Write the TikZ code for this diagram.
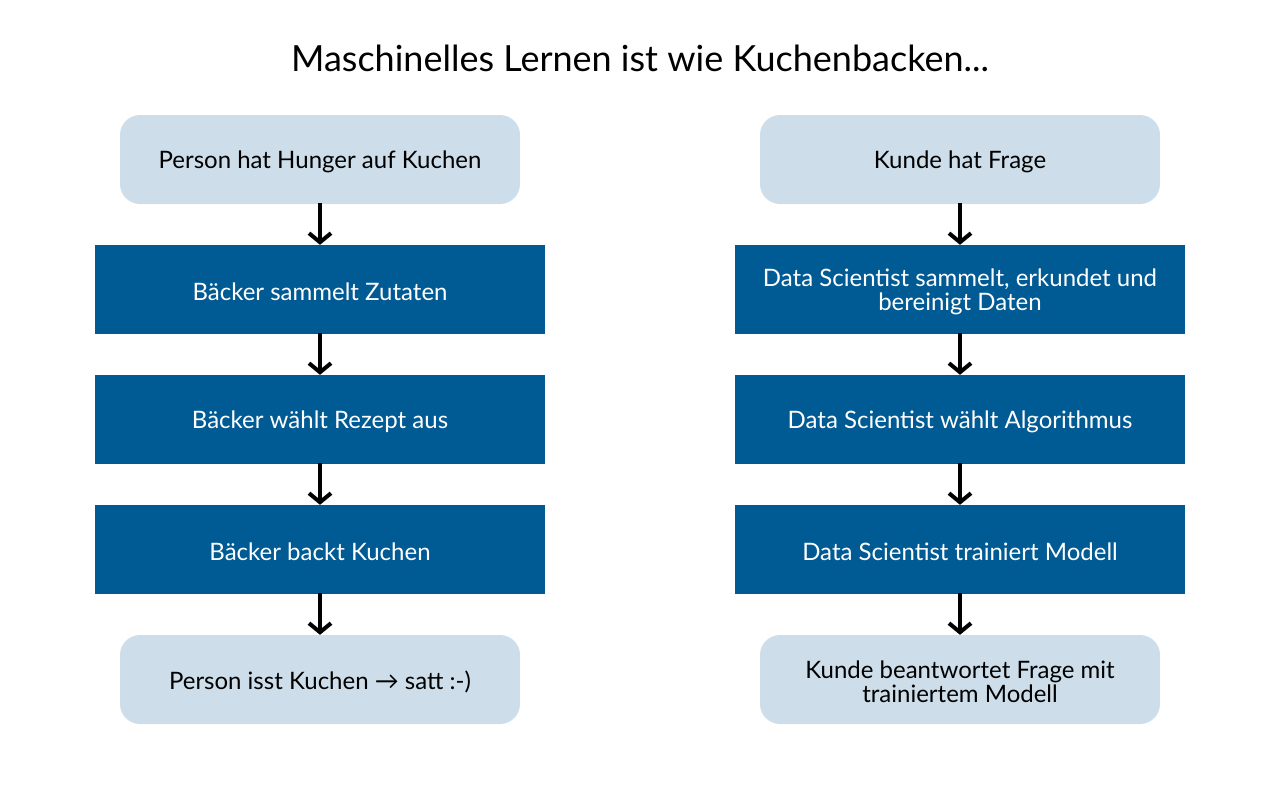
\documentclass[tikz,border=0pt]{standalone}
\usepackage{fontspec}
\setmainfont{Lato}
\usetikzlibrary{arrows.meta}
\definecolor{lightbox}{RGB}{205,222,234}
\definecolor{darkbox}{RGB}{0,90,148}
\tikzset{
  boxtext/.style={align=center, font=\fontsize{24}{24}\selectfont, inner sep=0pt, yshift=-2.5pt},
  lightnode/.style={fill=lightbox, rounded corners=20pt, minimum width=400pt, minimum height=89pt},
  darknode/.style={fill=darkbox, minimum width=450pt, minimum height=89pt},
  lighttext/.style={boxtext, text=black},
  darktext/.style={boxtext, text=white},
  flowarrow/.style={line width=4pt, -{Straight Barb[length=9pt,width=22pt]}, shorten <=-1pt}
}
\begin{document}
\begin{tikzpicture}[x=1pt,y=-1pt]
\useasboundingbox (0,0) rectangle (1280,800);
\node[font=\fontsize{36}{40}\selectfont] (title) at (640,58) {Maschinelles Lernen ist wie Kuchenbacken...};
% left column
\node[lightnode, label={[lighttext]center:{Person hat Hunger auf Kuchen}}] (l1) at (320,159.5) {};
\node[darknode, label={[darktext]center:{Bäcker sammelt Zutaten}}] (l2) at (320,289.5) {};
\node[darknode, label={[darktext]center:{Bäcker wählt Rezept aus}}] (l3) at (320,419.5) {};
\node[darknode, label={[darktext]center:{Bäcker backt Kuchen}}] (l4) at (320,549.5) {};
\node[lightnode, label={[lighttext]center:{Person isst Kuchen → satt :-)}}] (l5) at (320,679.5) {};
% right column
\node[lightnode, label={[lighttext]center:{Kunde hat Frage}}] (r1) at (960,159.5) {};
\node[darknode, label={[darktext]center:{Data Scientist sammelt, erkundet und\\bereinigt Daten}}] (r2) at (960,289.5) {};
\node[darknode, label={[darktext]center:{Data Scientist wählt Algorithmus}}] (r3) at (960,419.5) {};
\node[darknode, label={[darktext]center:{Data Scientist trainiert Modell}}] (r4) at (960,549.5) {};
\node[lightnode, label={[lighttext]center:{Kunde beantwortet Frage mit\\trainiertem Modell}}] (r5) at (960,679.5) {};
\foreach \a/\b in {l1/l2,l2/l3,l3/l4,l4/l5,r1/r2,r2/r3,r3/r4,r4/r5}
  \draw[flowarrow] (\a.south) -- (\b.north);
\end{tikzpicture}
\end{document}
